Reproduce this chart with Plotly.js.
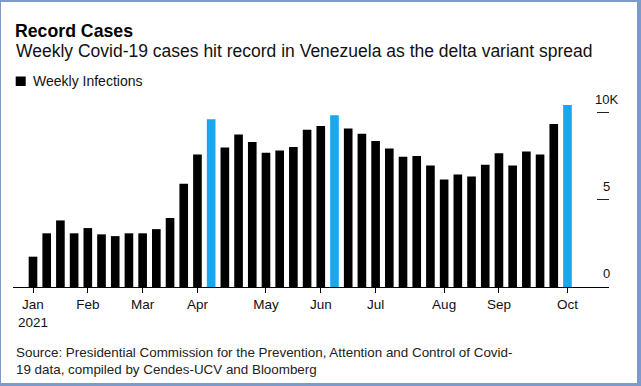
<!DOCTYPE html>
<html>
<head>
<meta charset="utf-8">
<script src="https://cdn.plot.ly/plotly-3.0.1.min.js"></script>
<style>
  html, body { margin: 0; padding: 0; background: #fff; }
  #wrap { position: relative; width: 641px; height: 386px; overflow: hidden; }
  #chart { position: absolute; left: 0; top: 0; width: 641px; height: 386px; }
  #frame { position: absolute; left: 0; top: 0; width: 641px; height: 386px; box-sizing: border-box;
           border-style: solid; border-color: #7d9acb; border-width: 2px 4px 3px 1px; pointer-events: none; }
</style>
</head>
<body>
<div id="wrap"><div id="chart"></div><div id="frame"></div></div>
<script>
// Week dates (weekly bars, 2021)
const weeks = [
  "2021-01-07","2021-01-14","2021-01-21","2021-01-28",
  "2021-02-04","2021-02-11","2021-02-18","2021-02-25",
  "2021-03-04","2021-03-11","2021-03-18","2021-03-25",
  "2021-04-01","2021-04-08","2021-04-15","2021-04-22","2021-04-29",
  "2021-05-06","2021-05-13","2021-05-20","2021-05-27",
  "2021-06-03","2021-06-10","2021-06-17","2021-06-24",
  "2021-07-01","2021-07-08","2021-07-15","2021-07-22","2021-07-29",
  "2021-08-05","2021-08-12","2021-08-19","2021-08-26",
  "2021-09-02","2021-09-09","2021-09-16","2021-09-23","2021-09-30",
  "2021-10-07"
];
// Weekly infections
const weeklyInfections = [
  1740, 3080, 3820, 3080,
  3380, 3020, 2920, 3080,
  3080, 3320, 3960, 5920,
  7600, 9630, 8000, 8750, 8320,
  7710, 7830, 8040, 9030,
  9240, 9850, 9090, 8800,
  8380, 7940, 7480, 7520, 6970,
  6170, 6450, 6340, 7020,
  7670, 6970, 7770, 7600, 9360,
  10440
];
// Record weeks (highlighted)
const recordWeeks = ["2021-04-08", "2021-06-10", "2021-10-07"];
// X tick positions and labels
const monthTickWeeks = ["2021-01-07","2021-02-04","2021-03-04","2021-04-01","2021-05-06",
                        "2021-06-03","2021-07-01","2021-08-05","2021-09-02","2021-10-07"];
const monthTickLabels = ["Jan<br>2021","Feb","Mar","Apr","May","Jun","Jul","Aug","Sep","Oct"];
// Y tick values and labels
const yTickVals = [0, 5000, 10000];
const yTickLabels = ["0", "5", "10K"];

const BLACK = "#000000";
const BLUE = "#17a8ef";
const FONT = "Liberation Sans, Arial, sans-serif";

const barColors = weeks.map(w => recordWeeks.includes(w) ? BLUE : BLACK);

const trace = {
  type: "bar",
  x: weeks,
  y: weeklyInfections,
  name: "Weekly Infections",
  marker: { color: barColors, line: { width: 0 } },
  width: 0.63,
  hoverinfo: "x+y"
};

const yLabelAnnotations = yTickVals.map((v, i) => ({
  xref: "paper", yref: "y", x: 0.995, y: v,
  xanchor: "center", yanchor: "bottom", yshift: 4,
  text: yTickLabels[i], showarrow: false,
  font: { family: FONT, size: 13, color: "#111" }
}));

const layout = {
  width: 641, height: 386, autosize: false,
  margin: { l: 13, r: 32, t: 100, b: 99, pad: 0 },
  paper_bgcolor: "#ffffff", plot_bgcolor: "#ffffff",
  showlegend: false,
  bargap: 0.37,
  font: { family: FONT, color: "#111" },
  title: {
    text: "<b>Record Cases</b>",
    xref: "container", yref: "container",
    x: 15 / 641, xanchor: "left",
    y: 1 - 31 / 386, yanchor: "middle",
    font: { family: FONT, size: 17.7, color: "#000" }
  },
  xaxis: {
    type: "category",
    categoryorder: "array", categoryarray: weeks,
    range: [-1.459, 42.03],
    tickmode: "array", tickvals: monthTickWeeks, ticktext: monthTickLabels,
    ticks: "outside", ticklen: 5, tickwidth: 1, tickcolor: "#000",
    showline: true, linecolor: "#000", linewidth: 1,
    showgrid: false, zeroline: false,
    tickfont: { family: FONT, size: 13.5, color: "#111" },
    fixedrange: true
  },
  yaxis: {
    range: [0, 10730],
    side: "right",
    tickmode: "array", tickvals: [5000, 10000],
    ticks: "inside", ticklen: 12, tickwidth: 1, tickcolor: "#222",
    showticklabels: false, showgrid: false, zeroline: false, showline: false,
    fixedrange: true
  },
  shapes: [
    { type: "rect", xref: "paper", yref: "paper",
      x0: (15.7 - 13) / 596, x1: (25.7 - 13) / 596,
      y0: (287 - 86) / 187, y1: (287 - 76.5) / 187,
      fillcolor: BLACK, line: { width: 0 } }
  ],
  annotations: [
    { xref: "paper", yref: "paper", x: (31 - 13) / 596, y: (287 - 81.3) / 187,
      xanchor: "left", yanchor: "middle", showarrow: false,
      text: "Weekly Infections", font: { family: FONT, size: 14, color: "#111" } },
    { xref: "paper", yref: "paper", x: (14 - 13) / 596, y: (287 - 51) / 187,
      xanchor: "left", yanchor: "middle", showarrow: false,
      text: "Weekly Covid-19 cases hit record in Venezuela as the delta variant spread",
      font: { family: FONT, size: 17.5, color: "#111" } },
    { xref: "paper", yref: "paper", x: (14 - 13) / 596, y: (287 - 343) / 187,
      xanchor: "left", yanchor: "top", align: "left", showarrow: false,
      text: "Source: Presidential Commission for the Prevention, Attention and Control of Covid-<br>19 data, compiled by Cendes-UCV and Bloomberg",
      font: { family: FONT, size: 13.4, color: "#222" } }
  ].concat(yLabelAnnotations)
};

Plotly.newPlot("chart", [trace], layout, { displayModeBar: false, staticPlot: true });
</script>
</body>
</html>
